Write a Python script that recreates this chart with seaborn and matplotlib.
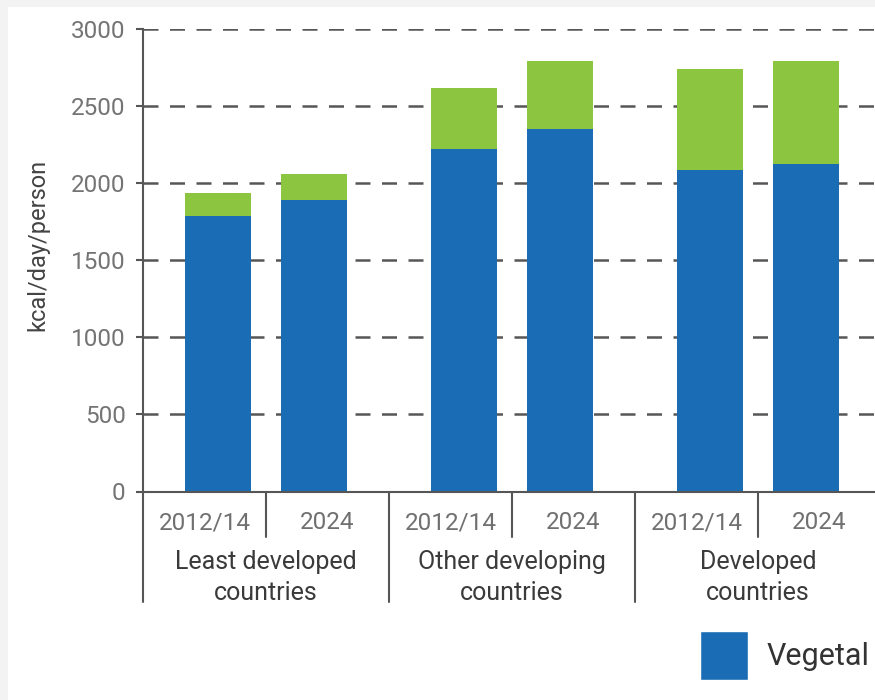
import numpy as np
import pandas as pd
import matplotlib
matplotlib.use("Agg")
import matplotlib.pyplot as plt
import matplotlib.transforms as mtransforms
from matplotlib.patches import Rectangle, Patch
import seaborn as sns

# Food energy supply by origin, kcal per person per day
groups = ["Least developed\ncountries", "Other developing\ncountries", "Developed\ncountries"]
years = ["2012/14", "2024"]
vegetal = [1785, 1890, 2225, 2350, 2090, 2125]
animal = [150, 168, 392, 445, 652, 670]
yticks = [0, 500, 1000, 1500, 2000, 2500, 3000]

BLUE = "#1a6db5"
GREEN = "#8cc53f"
LINE = "#565656"

df = pd.DataFrame({
    "group": np.repeat(groups, len(years)),
    "year": years * len(groups),
    "vegetal": vegetal,
    "animal": animal,
})
df["total"] = df["vegetal"] + df["animal"]

sns.set_theme(style="white")
plt.rcParams["font.family"] = ["Roboto", "DejaVu Sans"]

W, H = 875, 700
fig = plt.figure(figsize=(W / 100, H / 100), dpi=100, facecolor="#f3f3f3")
fig.patches.append(Rectangle((8 / W, 0), 1, 693 / H, transform=fig.transFigure,
                             facecolor="white", edgecolor="none", zorder=-1))
ax = fig.add_axes([143 / W, 208.5 / H, 738 / W, 462.2 / H])
ax.set_facecolor("white")

common = dict(data=df, x="group", hue="year", dodge=True, width=0.785, gap=0.32,
              saturation=1, linewidth=0, legend=False, errorbar=None, ax=ax)
# stacked: full height (animal on top) first, vegetal part drawn over it
sns.barplot(y="total", palette=[GREEN, GREEN], **common)
sns.barplot(y="vegetal", palette=[BLUE, BLUE], **common)

ax.set_xlim(-0.5, 2.5)
ax.set_ylim(0, 3000)
ax.set_yticks(yticks)
ax.set_yticklabels([str(v) for v in yticks])
ax.set_xticks([])
ax.set_xlabel("")

ax.set_axisbelow(True)
ax.yaxis.grid(True, color=LINE, lw=1.8, linestyle=(0, (6.0, 4.6)))
ax.xaxis.grid(False)
for side in ("top", "right"):
    ax.spines[side].set_visible(False)
for side in ("left", "bottom"):
    ax.spines[side].set_color(LINE)
    ax.spines[side].set_linewidth(1.5)
ax.tick_params(axis="y", direction="out", length=5, width=1.5, color=LINE,
               labelsize=17.5, labelcolor="#747474", pad=7.5, left=True)

ax.set_ylabel("kcal/day/person", fontsize=17, color="#444444")
ax.yaxis.label.set_va("center")
ax.yaxis.set_label_coords((38.3 - 143) / 738, (491.5 - 245) / 462.2)

# two-level category axis below the bars
trans = mtransforms.blended_transform_factory(ax.transData, ax.transAxes)
for x in np.arange(-0.5, len(groups), 1.0):
    ax.plot([x, x], [0, -0.240], transform=trans, clip_on=False, color=LINE, lw=1.5)
for gi in range(len(groups)):
    ax.plot([gi, gi], [0, -0.0995], transform=trans, clip_on=False, color=LINE, lw=1.5)
    for j, yr in enumerate(years):
        ax.text(gi + (j - 0.5) * 0.5, -0.0675, yr, transform=trans, ha="center",
                va="center", fontsize=17.5, color="#707070")
    ax.text(gi, -0.1860, groups[gi], transform=trans, ha="center", va="center",
            fontsize=18, color="#3a3a3a", linespacing=1.38)

handles = [Patch(facecolor=BLUE, label="Vegetal"), Patch(facecolor=GREEN, label="Animal")]
fig.legend(handles=handles, loc="center left", bbox_to_anchor=(700 / W, 44.5 / H),
           ncol=2, frameon=False, fontsize=22, handlelength=1.58, handleheight=2.04,
           handletextpad=0.6, borderpad=0, borderaxespad=0, columnspacing=1.5,
           labelcolor="#333333")

fig.savefig("out.png", dpi=100, facecolor=fig.get_facecolor())
